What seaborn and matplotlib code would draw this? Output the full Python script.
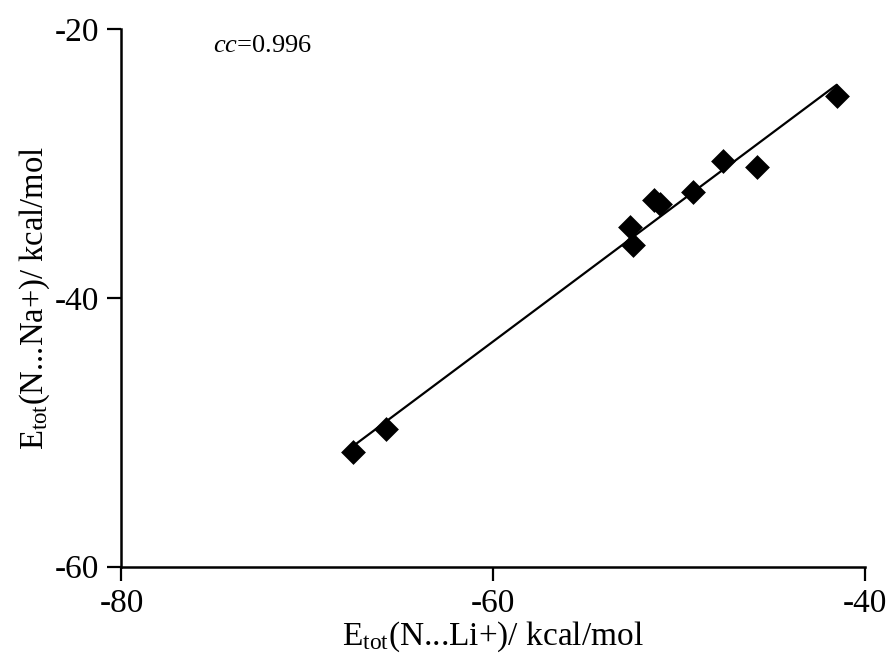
import numpy as np
import pandas as pd
import matplotlib
matplotlib.use("Agg")
import matplotlib.pyplot as plt
import seaborn as sns

# Data
e_li = [-67.54, -65.78, -52.63, -52.49, -51.34, -51.02, -49.26, -47.65, -45.80, -41.52]
e_na = [-51.45, -49.78, -34.75, -36.07, -32.72, -33.02, -32.10, -29.80, -30.25, -24.99]
x_ticks = [-80, -60, -40]
y_ticks = [-60, -40, -20]
cc_text = "=0.996"

df = pd.DataFrame({"li": e_li, "na": e_na})

sns.set_theme(style="white")
plt.rcParams["font.family"] = ["Liberation Serif", "DejaVu Serif"]
plt.rcParams["mathtext.fontset"] = "custom"
plt.rcParams["mathtext.rm"] = "Liberation Serif"
plt.rcParams["mathtext.it"] = "Liberation Serif:italic"

fig = plt.figure(figsize=(8.88, 6.59), dpi=100)
ax = fig.add_axes([0.1368, 0.140, 0.9741 - 0.1368, 0.956 - 0.140])

sns.regplot(data=df, x="li", y="na", scatter=False, ci=None, truncate=True,
            color="black", line_kws={"linewidth": 1.6}, ax=ax)
sns.scatterplot(data=df, x="li", y="na", marker="D", s=160, color="black",
                edgecolor="black", linewidth=0, ax=ax, zorder=3)

ax.set_xlim(-80, -40)
ax.set_ylim(-60, -20)
ax.set_xticks(x_ticks)
ax.set_yticks(y_ticks)
ax.set_xticklabels([str(t) for t in x_ticks])
ax.set_yticklabels([str(t) for t in y_ticks])
ax.tick_params(axis="both", direction="out", length=10, width=1.6,
               labelsize=24, color="black", labelcolor="black",
               bottom=True, left=True, pad=6)

for s in ["top", "right"]:
    ax.spines[s].set_visible(False)
for s in ["left", "bottom"]:
    ax.spines[s].set_color("black")
    ax.spines[s].set_linewidth(1.8)

ax.set_xlabel(r"E$_{\mathrm{tot}}$(N...Li+)/ kcal/mol", fontsize=24, color="black", labelpad=0)
ax.set_ylabel(r"E$_{\mathrm{tot}}$(N...Na+)/ kcal/mol", fontsize=23.5, color="black", labelpad=2)

ax.text(-75.1, -21.3, r"$\mathit{cc}$" + cc_text, fontsize=19, color="black",
        ha="left", va="center")

fig.savefig("out.png", dpi=100)
